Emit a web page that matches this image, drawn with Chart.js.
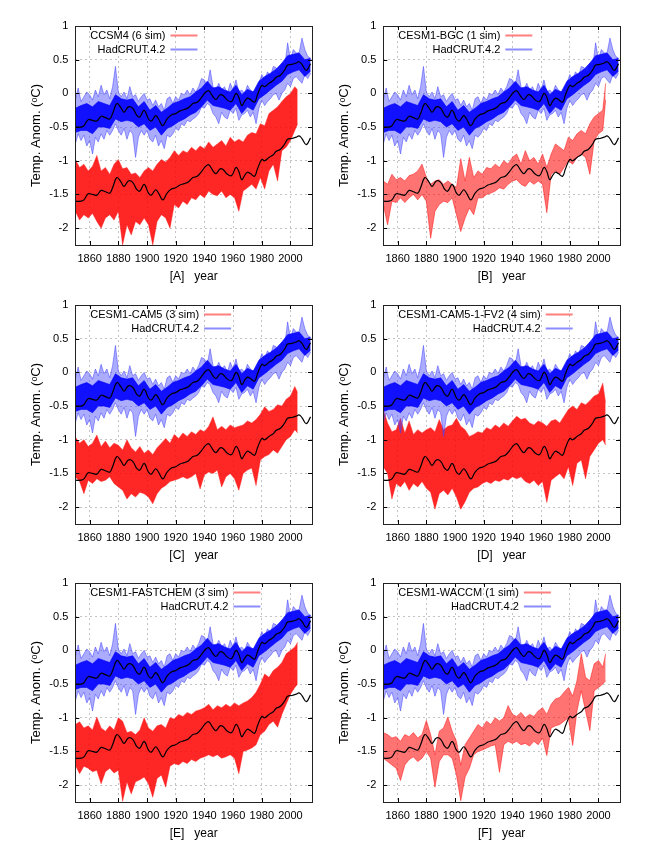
<!DOCTYPE html>
<html>
<head>
<meta charset="utf-8">
<script src="https://cdn.jsdelivr.net/npm/chart.js@4.4.1/dist/chart.umd.min.js"></script>
<style>
  html, body { margin: 0; padding: 0; background: #fff; }
  #wrap { position: relative; width: 664px; height: 860px; }
  canvas { position: absolute; }
</style>
</head>
<body>
<div id="wrap">
  <canvas id="pA" width="332" height="290" style="left:0;top:0"></canvas>
  <canvas id="pB" width="332" height="290" style="left:332px;top:0"></canvas>
  <canvas id="pC" width="332" height="290" style="left:0;top:279px"></canvas>
  <canvas id="pD" width="332" height="290" style="left:332px;top:279px"></canvas>
  <canvas id="pE" width="332" height="290" style="left:0;top:557px"></canvas>
  <canvas id="pF" width="332" height="290" style="left:332px;top:557px"></canvas>
</div>
<script>
// ---- data ----
const xTicks = [1860, 1880, 1900, 1920, 1940, 1960, 1980, 2000];
const yTicks = [-2, -1.5, -1, -0.5, 0, 0.5, 1];

// HadCRUT.4.2 monthly band, upper / lower extent per 2 years
const hadYears = [1850,1852,1854,1856,1858,1860,1862,1864,1866,1868,
  1870,1872,1874,1876,1878,1880,1882,1884,1886,1888,
  1890,1892,1894,1896,1898,1900,1902,1904,1906,1908,
  1910,1912,1914,1916,1918,1920,1922,1924,1926,1928,
  1930,1932,1934,1936,1938,1940,1942,1944,1946,1948,
  1950,1952,1954,1956,1958,1960,1962,1964,1966,1968,
  1970,1972,1974,1976,1978,1980,1982,1984,1986,1988,
  1990,1992,1994,1996,1998,2000,2002,2004,2006,2008,
  2010,2012,2014];
const hadHigh = [-0.10,0.08,-0.12,-0.05,0.02,-0.02,-0.10,0.05,-0.05,0.12,
  -0.02,0.05,-0.08,0.10,0.40,0.02,-0.05,0.02,-0.08,0.10,
  -0.05,-0.02,-0.12,-0.05,0.00,-0.10,-0.08,-0.18,-0.10,-0.20,
  -0.15,-0.25,-0.08,-0.05,-0.15,-0.05,-0.10,0.00,-0.02,0.05,
  -0.02,0.08,0.02,0.10,0.22,0.20,0.12,0.35,0.10,0.05,
  0.15,0.05,0.10,0.00,0.15,0.05,0.20,0.02,0.05,0.00,
  0.12,0.05,0.02,0.05,0.15,0.28,0.20,0.32,0.25,0.40,
  0.38,0.28,0.45,0.40,0.75,0.50,0.65,0.60,0.60,0.82,
  0.65,0.55,0.52];
const hadLow = [-0.75,-0.60,-0.70,-0.62,-0.78,-0.70,-0.90,-0.65,-0.72,-0.60,
  -0.68,-0.55,-0.62,-0.55,-0.45,-0.55,-0.62,-0.52,-0.68,-0.55,
  -0.60,-0.95,-0.65,-0.55,-0.62,-0.55,-0.68,-0.72,-0.62,-0.78,
  -0.70,-0.82,-0.62,-0.65,-0.60,-0.52,-0.55,-0.45,-0.48,-0.40,
  -0.42,-0.38,-0.35,-0.30,-0.20,-0.22,-0.15,-0.18,-0.30,-0.35,
  -0.45,-0.28,-0.35,-0.38,-0.25,-0.30,-0.22,-0.40,-0.32,-0.30,
  -0.25,-0.35,-0.28,-0.45,-0.22,-0.10,-0.18,-0.12,-0.08,-0.02,
  0.00,-0.10,0.00,0.05,0.15,0.10,0.22,0.25,0.20,0.15,
  0.28,0.22,0.30];

// dense core of the HadCRUT band, per 4 years
const coreYears = [1850,1854,1858,1862,1866,1870,1874,1878,1882,1886,
  1890,1894,1898,1902,1906,1910,1914,1918,1922,1926,
  1930,1934,1938,1942,1946,1950,1954,1958,1962,1966,
  1970,1974,1978,1982,1986,1990,1994,1998,2002,2006,
  2010,2014];
const hadCoreHigh = [-0.22,-0.18,-0.15,-0.20,-0.12,-0.15,-0.18,-0.02,-0.08,-0.10,
  -0.08,-0.20,-0.12,-0.25,-0.18,-0.28,-0.22,-0.15,-0.12,-0.08,
  -0.05,0.02,0.08,0.18,0.08,0.10,0.05,0.02,0.12,-0.02,
  0.06,0.02,0.18,0.25,0.30,0.36,0.45,0.56,0.58,0.60,
  0.50,0.52];
const hadCoreLow = [-0.58,-0.55,-0.55,-0.60,-0.50,-0.50,-0.52,-0.38,-0.42,-0.40,
  -0.42,-0.50,-0.45,-0.55,-0.50,-0.62,-0.52,-0.48,-0.42,-0.38,
  -0.32,-0.28,-0.20,-0.10,-0.18,-0.20,-0.22,-0.25,-0.15,-0.30,
  -0.20,-0.25,-0.08,-0.02,0.05,0.12,0.18,0.28,0.32,0.35,
  0.25,0.33];

// smoothed HadCRUT (black curve)
const smoothYears = [1850,1854,1856,1859,1862,1865,1868,1871,1874,1876,
  1879,1882,1884,1887,1890,1893,1895,1898,1901,1903,
  1906,1908,1911,1914,1917,1920,1923,1926,1929,1932,
  1935,1938,1941,1943,1946,1948,1951,1953,1956,1959,
  1962,1964,1966,1968,1970,1972,1975,1977,1980,1982,
  1985,1988,1990,1993,1996,1998,2001,2004,2006,2008,
  2011,2014];
const hadSmooth = [-0.50,-0.50,-0.48,-0.39,-0.40,-0.41,-0.34,-0.36,-0.38,-0.30,
  -0.15,-0.22,-0.28,-0.20,-0.22,-0.33,-0.35,-0.25,-0.38,-0.41,
  -0.33,-0.38,-0.48,-0.38,-0.32,-0.30,-0.26,-0.24,-0.21,-0.15,
  -0.13,-0.06,0.02,0.04,-0.05,-0.09,-0.02,-0.03,-0.10,-0.12,
  0.00,-0.06,-0.18,-0.12,-0.07,-0.09,-0.13,-0.02,0.12,0.10,
  0.15,0.19,0.24,0.27,0.35,0.42,0.43,0.45,0.47,0.43,
  0.34,0.44];
// the second black curve is the same one drawn 1.1 lower, next to the models
const modelShift = -1.1;

// model bands (shifted anomalies), upper / lower extent per 3 years
const modelYears = [1850,1853,1856,1859,1862,1865,1868,1871,1874,1877,
  1880,1883,1886,1889,1892,1895,1898,1901,1904,1907,
  1910,1913,1916,1919,1922,1925,1928,1931,1934,1937,
  1940,1943,1946,1949,1952,1955,1958,1961,1964,1967,
  1970,1973,1976,1979,1982,1985,1988,1991,1994,1997,
  2000,2003,2005];

const ccsm4High = [-0.98,-1.10,-1.05,-1.15,-1.08,-0.92,-1.15,-1.10,-1.20,-1.05,
  -0.98,-1.12,-1.10,-1.20,-1.18,-1.25,-1.15,-1.10,-1.15,-1.05,
  -0.98,-1.02,-0.95,-0.85,-0.92,-0.85,-0.88,-0.80,-0.85,-0.78,
  -0.82,-0.72,-0.80,-0.75,-0.70,-0.78,-0.65,-0.72,-0.68,-0.72,
  -0.62,-0.58,-0.60,-0.45,-0.48,-0.30,-0.25,-0.20,-0.12,-0.05,
  0.00,0.10,0.05];
const ccsm4Low = [-1.75,-1.88,-1.80,-1.85,-1.78,-1.90,-2.00,-1.85,-1.80,-1.88,
  -1.75,-2.25,-1.95,-2.10,-1.90,-1.95,-1.85,-1.95,-2.25,-1.90,
  -1.80,-1.85,-2.00,-1.65,-1.70,-1.60,-1.65,-1.55,-1.58,-1.50,
  -1.55,-1.45,-1.50,-1.52,-1.45,-1.55,-1.50,-1.55,-1.75,-1.45,
  -1.40,-1.35,-1.42,-1.25,-1.42,-1.15,-1.05,-1.30,-0.85,-0.80,
  -0.70,-0.55,-0.45];

const bgcHigh = [-1.30,-1.35,-1.20,-1.28,-1.25,-1.30,-1.22,-1.20,-1.15,-1.05,
  -1.25,-1.35,-1.30,-1.28,-1.35,-1.30,-1.35,-1.40,-0.97,-1.30,
  -0.95,-1.25,-1.15,-1.20,-1.10,-1.12,-1.05,-1.10,-1.00,-1.05,
  -0.95,-0.90,-1.05,-0.85,-1.00,-0.95,-1.05,-0.90,-1.10,-0.90,
  -0.75,-0.80,-0.85,-0.65,-0.70,-0.60,-0.55,-0.60,-0.45,-0.35,
  -0.30,-0.25,0.15];
const bgcLow = [-1.65,-1.95,-1.60,-1.62,-1.55,-1.62,-1.55,-1.50,-1.58,-1.50,
  -1.60,-2.15,-1.75,-1.65,-1.60,-1.62,-1.55,-1.80,-2.05,-1.85,
  -1.70,-1.80,-1.55,-1.55,-1.50,-1.48,-1.45,-1.40,-1.42,-1.35,
  -1.30,-1.28,-1.35,-1.38,-1.30,-1.35,-1.30,-1.35,-1.77,-1.20,
  -1.15,-1.20,-1.10,-1.00,-1.05,-0.95,-0.90,-0.95,-1.20,-0.70,
  -0.60,-0.55,-0.10];

const cam5High = [-0.96,-1.05,-1.00,-1.10,-1.05,-0.93,-1.10,-1.02,-1.12,-1.05,
  -1.08,-1.15,-1.00,-1.12,-1.18,-1.10,-1.20,-1.15,-1.22,-1.12,
  -1.05,-0.98,-1.05,-0.92,-0.98,-0.90,-0.95,-0.88,-0.92,-0.85,
  -0.88,-0.80,-0.66,-0.85,-0.80,-0.85,-0.78,-0.82,-0.80,-0.78,
  -0.72,-0.75,-0.70,-0.62,-0.51,-0.58,-0.55,-0.48,-0.50,-0.40,
  -0.35,-0.21,-0.30];
const cam5Low = [-1.55,-1.62,-1.80,-1.60,-1.65,-1.58,-1.62,-1.60,-1.55,-1.65,
  -1.70,-1.75,-1.88,-1.80,-1.85,-1.78,-1.80,-1.85,-1.95,-1.80,
  -1.72,-1.68,-1.62,-1.60,-1.58,-1.55,-1.58,-1.55,-1.50,-1.73,
  -1.52,-1.48,-1.50,-1.45,-1.70,-1.55,-1.50,-1.58,-1.75,-1.50,
  -1.45,-1.42,-1.68,-1.30,-1.25,-1.22,-1.15,-1.20,-1.10,-1.00,
  -0.95,-0.85,-0.90];

const fv2High = [-0.55,-0.75,-0.88,-0.85,-0.68,-0.90,-0.72,-0.92,-0.85,-0.90,
  -0.85,-0.82,-0.88,-0.70,-0.85,-0.80,-0.78,-0.68,-0.80,-0.85,
  -0.95,-0.92,-0.88,-0.90,-0.82,-0.85,-0.78,-0.82,-0.75,-0.80,
  -0.72,-0.65,-0.70,-0.68,-0.75,-0.78,-0.72,-0.75,-0.80,-0.72,
  -0.70,-0.75,-0.65,-0.55,-0.50,-0.55,-0.45,-0.48,-0.42,-0.35,
  -0.32,-0.16,-0.45];
const fv2Low = [-1.40,-1.50,-1.88,-1.65,-1.70,-1.62,-1.75,-1.65,-1.70,-1.62,
  -1.72,-1.78,-2.03,-1.80,-1.75,-1.82,-1.72,-1.85,-2.03,-1.92,
  -1.78,-1.72,-1.70,-1.65,-1.62,-1.65,-1.60,-1.62,-1.58,-1.60,
  -1.55,-1.58,-1.55,-1.62,-1.65,-1.60,-1.68,-1.62,-1.93,-1.60,
  -1.55,-1.50,-1.58,-1.40,-1.68,-1.35,-1.30,-1.58,-1.25,-1.15,
  -1.05,-1.00,-1.08];

const fastHigh = [-1.10,-1.06,-1.15,-1.12,-1.18,-0.99,-1.15,-1.20,-1.12,-1.18,
  -1.00,-1.05,-1.22,-1.20,-1.25,-1.18,-1.00,-1.15,-1.20,-1.12,
  -1.10,-1.15,-1.00,-1.02,-0.95,-0.98,-0.92,-0.95,-0.90,-0.88,
  -0.85,-0.80,-0.88,-0.82,-0.85,-0.80,-0.84,-0.78,-0.82,-0.78,
  -0.75,-0.70,-0.62,-0.50,-0.35,-0.40,-0.30,-0.25,-0.18,-0.05,
  0.00,0.05,0.12];
const fastLow = [-1.70,-1.83,-1.72,-1.75,-1.80,-1.78,-1.98,-1.80,-1.75,-1.82,
  -1.78,-2.24,-1.95,-2.13,-1.95,-1.92,-1.88,-1.98,-2.18,-1.90,
  -1.85,-2.03,-1.72,-1.68,-1.70,-1.65,-1.68,-1.62,-1.65,-1.60,
  -1.58,-1.55,-1.58,-1.55,-1.60,-1.58,-1.55,-1.60,-1.83,-1.50,
  -1.48,-1.45,-1.40,-1.25,-1.20,-1.10,-1.05,-1.14,-0.95,-0.80,
  -0.65,-0.55,-0.50];

const waccmHigh = [-1.22,-1.25,-1.30,-1.28,-1.35,-1.25,-1.28,-1.22,-1.30,-1.25,
  -1.04,-1.25,-1.55,-1.20,-1.15,-0.99,-1.20,-1.35,-1.70,-1.40,
  -1.30,-1.20,-1.10,-1.15,-1.05,-1.10,-1.00,-1.05,-1.00,-0.82,
  -0.95,-0.98,-0.92,-1.00,-0.95,-0.98,-0.90,-0.85,-0.95,-0.80,
  -0.72,-0.70,-0.62,-0.55,-0.68,-0.45,-0.05,-0.40,-0.45,-0.20,
  -0.15,-0.25,-0.05];
const waccmLow = [-1.60,-1.65,-1.70,-1.75,-1.93,-1.70,-1.62,-1.58,-1.65,-1.60,
  -1.50,-1.60,-2.03,-1.65,-1.55,-1.55,-1.60,-1.85,-2.23,-1.88,
  -1.75,-1.55,-1.50,-1.48,-1.45,-1.42,-1.40,-1.81,-1.40,-1.35,
  -1.38,-1.35,-1.40,-1.38,-1.42,-1.35,-1.40,-1.30,-1.56,-1.15,
  -1.12,-1.10,-1.05,-1.00,-1.41,-0.90,-0.60,-0.90,-1.19,-0.60,
  -0.55,-0.50,-0.45];

const FONT = '"Liberation Sans", Arial, sans-serif';

function toPoints(xs, ys, shift) {
    return xs.map((x, i) => ({ x: x, y: ys[i] + (shift || 0) }));
}

// gnuplot style frame, inward ticks and key
const framePlugin = {
    id: 'frame',
    afterDraw(chart, args, opts) {
        const { ctx, chartArea: a, scales: { x, y } } = chart;
        ctx.save();
        ctx.strokeStyle = '#000';
        ctx.lineWidth = 1;
        ctx.beginPath();
        xTicks.forEach(v => {
            const px = Math.round(x.getPixelForValue(v)) + 0.5;
            ctx.moveTo(px, a.bottom); ctx.lineTo(px, a.bottom - 4);
            ctx.moveTo(px, a.top); ctx.lineTo(px, a.top + 4);
        });
        yTicks.forEach(v => {
            const py = Math.round(y.getPixelForValue(v)) + 0.5;
            ctx.moveTo(a.left, py); ctx.lineTo(a.left + 4, py);
            ctx.moveTo(a.right, py); ctx.lineTo(a.right - 4, py);
        });
        ctx.stroke();
        ctx.strokeStyle = '#222';
        ctx.strokeRect(Math.round(a.left) + 0.5, Math.round(a.top) + 0.5,
            Math.round(a.width), Math.round(a.height));

        // key
        ctx.font = '11px ' + FONT;
        const w = Math.max(ctx.measureText(opts.model).width, ctx.measureText(opts.obs).width);
        const tx = a.left + 15 + w;
        [[opts.model, 'rgba(255,0,0,0.5)', 9.5], [opts.obs, 'rgba(0,0,255,0.45)', 23.5]].forEach(k => {
            ctx.fillStyle = '#000';
            ctx.textAlign = 'right';
            ctx.textBaseline = 'middle';
            ctx.fillText(k[0], tx, a.top + k[2]);
            ctx.strokeStyle = k[1];
            ctx.lineWidth = 2;
            ctx.beginPath();
            ctx.moveTo(tx + 5, a.top + k[2]);
            ctx.lineTo(tx + 32, a.top + k[2]);
            ctx.stroke();
        });
        ctx.restore();
    }
};

function band(xs, ys, line, fillColor, order) {
    return {
        data: toPoints(xs, ys), borderColor: line, backgroundColor: fillColor,
        borderWidth: 1, fill: fillColor ? '+1' : false, pointRadius: 0, tension: 0, order: order
    };
}

function drawPanel(canvasId, letter, modelLabel, high, low, rightColumn, single) {
    const ctx = document.getElementById(canvasId).getContext('2d');
    const yWidth = rightColumn ? 51.3 : 75.3;
    const redLine = single ? 'rgba(255,30,30,0.55)' : 'rgba(255,40,40,0.45)';
    const redFill = single ? 'rgba(255,0,0,0.55)' : 'rgba(255,0,0,0.85)';

    new Chart(ctx, {
        type: 'line',
        data: {
            datasets: [
                // black curves first in the list, drawn on top (lowest order)
                { data: toPoints(smoothYears, hadSmooth), borderColor: '#000', borderWidth: 1.2,
                  fill: false, pointRadius: 0, tension: 0.4, order: 0 },
                { data: toPoints(smoothYears, hadSmooth, modelShift), borderColor: '#000', borderWidth: 1.2,
                  fill: false, pointRadius: 0, tension: 0.4, order: 0 },
                band(coreYears, hadCoreHigh, 'rgba(0,0,255,0.6)', 'rgba(0,0,255,0.9)', 1),
                band(coreYears, hadCoreLow, 'rgba(0,0,255,0.6)', null, 1),
                band(hadYears, hadHigh, 'rgba(60,60,255,0.5)', 'rgba(70,70,255,0.45)', 2),
                band(hadYears, hadLow, 'rgba(60,60,255,0.5)', null, 2),
                band(modelYears, high, redLine, redFill, 2),
                band(modelYears, low, redLine, null, 2)
            ]
        },
        options: {
            responsive: false,
            animation: false,
            devicePixelRatio: 1,
            layout: { padding: { left: 0, top: 26, right: rightColumn ? 44 : 20, bottom: 0 } },
            plugins: {
                legend: { display: false },
                tooltip: { enabled: false },
                frame: { model: modelLabel, obs: 'HadCRUT.4.2' }
            },
            scales: {
                x: {
                    type: 'linear',
                    min: 1850,
                    max: 2015,
                    afterBuildTicks: s => { s.ticks = xTicks.map(v => ({ value: v })); },
                    afterFit: s => { s.height = 45; },
                    ticks: { padding: 7, color: '#000', font: { family: FONT, size: 11 }, callback: v => String(v), maxRotation: 0 },
                    grid: { color: '#c4c4c4', drawTicks: false },
                    border: { display: false, dash: [2, 3] },
                    title: { display: true, text: '[' + letter + ']   year', color: '#000',
                             font: { family: FONT, size: 12 }, padding: { top: 0, bottom: 6 } }
                },
                y: {
                    min: -2.25,
                    max: 1,
                    afterBuildTicks: s => { s.ticks = yTicks.map(v => ({ value: v })); },
                    afterFit: s => { s.width = yWidth; },
                    ticks: { padding: 7, color: '#000', font: { family: FONT, size: 11 }, callback: v => String(v) },
                    grid: { color: '#c4c4c4', drawTicks: false },
                    border: { display: false, dash: [2, 3] },
                    title: { display: true, text: 'Temp. Anom. (\u1D52C)', color: '#000',
                             font: { family: FONT, size: 13 }, padding: { top: rightColumn ? 5 : 29, bottom: 0 } }
                }
            }
        },
        plugins: [framePlugin]
    });
}

drawPanel('pA', 'A', 'CCSM4 (6 sim)', ccsm4High, ccsm4Low, false, false);
drawPanel('pB', 'B', 'CESM1-BGC (1 sim)', bgcHigh, bgcLow, true, true);
drawPanel('pC', 'C', 'CESM1-CAM5 (3 sim)', cam5High, cam5Low, false, false);
drawPanel('pD', 'D', 'CESM1-CAM5-1-FV2 (4 sim)', fv2High, fv2Low, true, false);
drawPanel('pE', 'E', 'CESM1-FASTCHEM (3 sim)', fastHigh, fastLow, false, false);
drawPanel('pF', 'F', 'CESM1-WACCM (1 sim)', waccmHigh, waccmLow, true, true);
</script>
</body>
</html>
